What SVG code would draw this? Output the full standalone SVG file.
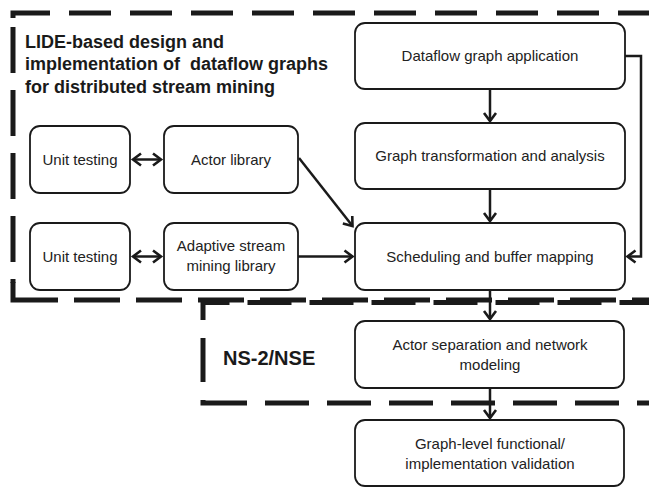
<svg xmlns="http://www.w3.org/2000/svg" width="649" height="487" viewBox="0 0 649 487">
  <style>
    .box { fill: #ffffff; stroke: #1a1a1a; stroke-width: 1.8; }
    .lbl { font-family: "Liberation Sans", Arial, sans-serif; font-size: 15px; fill: #222222; text-anchor: middle; }
    .title { font-family: "Liberation Sans", Arial, sans-serif; font-weight: bold; fill: #1a1a1a; }
    .zone { fill: none; stroke: #1a1a1a; stroke-width: 5; stroke-linecap: butt; stroke-linejoin: miter; }
    .edge { fill: none; stroke: #1a1a1a; stroke-width: 2.5; }
  </style>
  <defs>
    <marker id="arrow" markerUnits="userSpaceOnUse" viewBox="-10 -7 12 14" markerWidth="12" markerHeight="14" refX="0" refY="0" orient="auto-start-reverse" overflow="visible">
      <path d="M-8,-6 L0,0 L-8,6" fill="none" stroke="#1a1a1a" stroke-width="2.6" stroke-linejoin="miter"/>
    </marker>
  </defs>

  <rect x="0" y="0" width="649" height="487" fill="#ffffff"/>

  <!-- dashed region borders -->
  <g id="zones">
    <!-- LIDE region -->
    <path class="zone" d="M13,18 L13,13 L50,13"/>
    <path class="zone" d="M69,13 L649,13" stroke-dasharray="42 19"/>
    <path class="zone" d="M13,27 L13,283" stroke-dasharray="46 17"/>
    <path class="zone" d="M13,282 L13,300 L58,300"/>
    <path class="zone" d="M74,300 L649,300" stroke-dasharray="46 16"/>
    <!-- NS-2/NSE region -->
    <path class="zone" d="M203,320 L203,302.5 L649,302.5" stroke-dasharray="44 18"/>
    <path class="zone" d="M203,338 L203,382"/>
    <path class="zone" d="M203,400 L203,403 L247,403"/>
    <path class="zone" d="M265,403 L649,403" stroke-dasharray="44 18"/>
  </g>

  <!-- region captions -->
  <g id="lide-caption">
    <text class="title" font-size="18" x="25" y="47.5">LIDE-based design and</text>
    <text class="title" font-size="18" x="25" y="70" xml:space="preserve">implementation of  dataflow graphs</text>
    <text class="title" font-size="18" x="25" y="92.5">for distributed stream mining</text>
  </g>
  <g id="ns-caption">
    <text class="title" font-size="20" x="223" y="365">NS-2/NSE</text>
  </g>

  <!-- connectors -->
  <g id="connectors">
    <path class="edge" d="M133,159.5 L161,159.5" marker-start="url(#arrow)" marker-end="url(#arrow)"/>
    <path class="edge" d="M133,256.5 L161,256.5" marker-start="url(#arrow)" marker-end="url(#arrow)"/>
    <path class="edge" d="M299,158 L352.5,226" marker-end="url(#arrow)"/>
    <path class="edge" d="M298,256.5 L352.5,256.5" marker-end="url(#arrow)"/>
    <path class="edge" d="M490,89 L490,121" marker-end="url(#arrow)"/>
    <path class="edge" d="M490,189 L490,221" marker-end="url(#arrow)"/>
    <path class="edge" d="M625,56 L641,56 L641,256.5 L627.5,256.5" marker-end="url(#arrow)"/>
    <path class="edge" d="M490,290 L490,319" marker-end="url(#arrow)"/>
    <path class="edge" d="M490,388 L490,418" marker-end="url(#arrow)"/>
  </g>

  <!-- nodes -->
  <g id="dataflow-app">
    <rect class="box" x="355" y="23" width="270" height="66" rx="10"/>
    <text class="lbl" x="490" y="61">Dataflow graph application</text>
  </g>
  <g id="graph-transform">
    <rect class="box" x="355" y="123" width="270" height="66" rx="10"/>
    <text class="lbl" x="490" y="161">Graph transformation and analysis</text>
  </g>
  <g id="scheduling">
    <rect class="box" x="355" y="223" width="270" height="67" rx="10"/>
    <text class="lbl" x="490" y="261.5">Scheduling and buffer mapping</text>
  </g>
  <g id="actor-separation">
    <rect class="box" x="355" y="321" width="269" height="67" rx="10"/>
    <text class="lbl" x="490" y="350">Actor separation and network</text>
    <text class="lbl" x="490" y="370">modeling</text>
  </g>
  <g id="validation">
    <rect class="box" x="355" y="420" width="269" height="66" rx="10"/>
    <text class="lbl" x="490" y="449">Graph-level functional/</text>
    <text class="lbl" x="490" y="469">implementation validation</text>
  </g>
  <g id="unit-testing-1">
    <rect class="box" x="30" y="126" width="100" height="67" rx="10"/>
    <text class="lbl" x="80" y="164.5">Unit testing</text>
  </g>
  <g id="actor-library">
    <rect class="box" x="164" y="126" width="134" height="67" rx="10"/>
    <text class="lbl" x="231" y="164.5">Actor library</text>
  </g>
  <g id="unit-testing-2">
    <rect class="box" x="30" y="223" width="100" height="67" rx="10"/>
    <text class="lbl" x="80" y="261.5">Unit testing</text>
  </g>
  <g id="adaptive-library">
    <rect class="box" x="164" y="223" width="134" height="67" rx="10"/>
    <text class="lbl" x="231" y="251">Adaptive stream</text>
    <text class="lbl" x="231" y="271">mining library</text>
  </g>
</svg>
